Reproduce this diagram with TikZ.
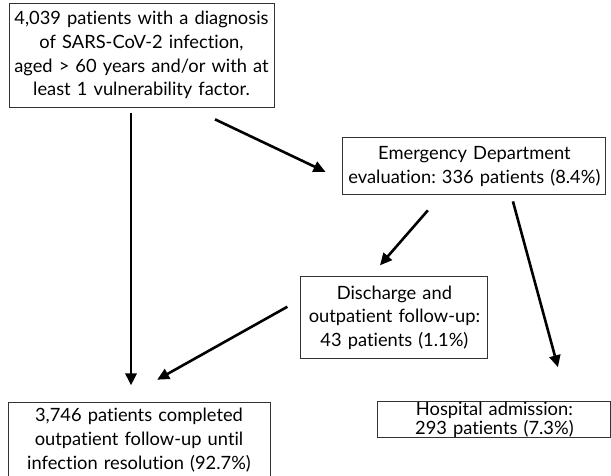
\documentclass[tikz,border=0pt]{standalone}
\usepackage{fontspec}
\setmainfont{Lato}[Ligatures=NoCommon]
\frenchspacing
\usetikzlibrary{positioning, arrows.meta}

\begin{document}
\begin{tikzpicture}[
    x=1pt, y=1pt,
    node distance=30pt,
    box/.style={draw=black!80, line width=0.9pt, inner sep=0pt, align=center,
        font=\fontsize{18.3}{23.8}\selectfont},
    flow/.style={line width=2.6pt, -{Triangle[length=12pt, width=11pt]}}
]
    \useasboundingbox (0,0) rectangle (611,-475);

    % Boxes
    \node[box, text width=265pt, minimum height=104pt] (pop) at (141.5,-55)
        {4,039 patients with a diagnosis\\ of SARS-CoV-2 infection,\\ aged > 60 years and/or with at\\ least 1 vulnerability factor.};
    \node[box, text width=263pt, minimum height=57pt, below right=30pt and 68pt of pop] (ed)
        {Emergency Department\\ evaluation: 336 patients (8.4\%)};
    \node[box, text width=187pt, minimum height=82pt, below=81pt of ed, xshift=-80pt] (dis)
        {Discharge and\\ outpatient follow-up:\\ 43 patients (1.1\%)};
    \node[box, text width=233pt, minimum height=36pt, below=42pt of dis, xshift=100pt,
        font=\fontsize{18.3}{17}\selectfont] (hosp)
        {Hospital admission:\\ 293 patients (7.3\%)};
    \node[box, text width=262pt, minimum height=74pt, below=295pt of pop, xshift=-2.5pt] (done)
        {3,746 patients completed\\ outpatient follow-up until\\ infection resolution (92.7\%)};

    % Arrows
    \draw[flow, shorten <=6pt, shorten >=17pt] ([xshift=-10.5pt]pop.south) -- ([xshift=-8pt]done.north);
    \draw[flow, shorten <=27.7pt, shorten >=18.8pt] ([xshift=48.5pt]pop.south) -- ([yshift=-13.5pt]ed.west);
    \draw[flow, shorten <=19.9pt, shorten >=14.6pt] ([xshift=-33.5pt]ed.south) -- ([xshift=-24pt]dis.north);
    \draw[flow, shorten <=6.2pt, shorten >=35.2pt] ([xshift=36.9pt]ed.south) -- ([xshift=72.8pt]hosp.north);
    \draw[flow, shorten <=15pt, shorten >=46.5pt] ([yshift=18.4pt]dis.west) -- ([xshift=-22.4pt]done.north);
\end{tikzpicture}
\end{document}
